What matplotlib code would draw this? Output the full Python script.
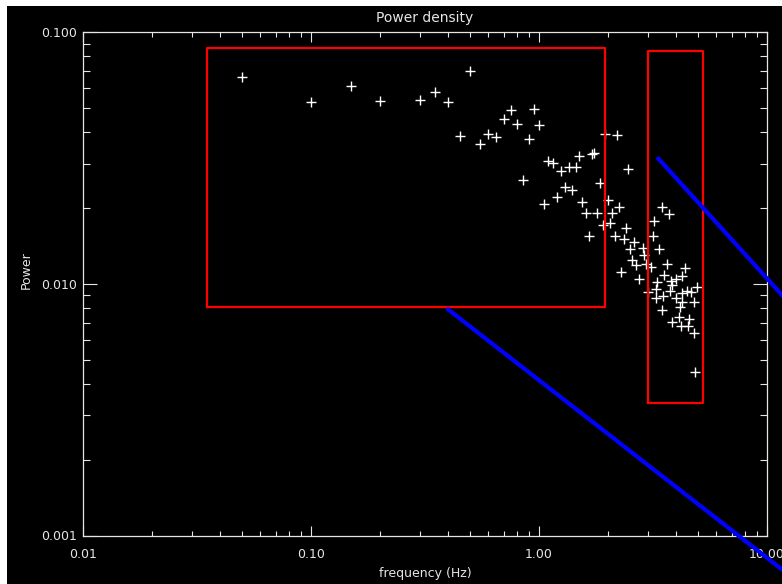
import matplotlib
matplotlib.use("Agg")
import matplotlib.pyplot as plt
from matplotlib.patches import Rectangle

# frequency / power pairs
freq = [0.05, 0.10, 0.15, 0.20, 0.30, 0.35, 0.40, 0.50, 0.45, 0.55,
        0.60, 0.65, 0.70, 0.75, 0.80, 0.95, 1.00, 0.90, 0.85, 1.05,
        1.20, 1.10, 1.15, 1.25, 1.35, 1.45, 1.50, 1.70, 1.75, 1.30,
        1.40, 1.55, 1.60, 1.80, 1.85, 1.95, 2.20, 2.45, 2.00, 2.25,
        2.10, 2.05, 1.90, 1.65, 2.15, 2.40, 2.35, 2.60, 2.50, 2.85,
        3.15, 3.20, 3.45, 3.70, 3.35, 2.55, 2.65, 2.90, 2.95, 3.10,
        2.30, 2.75, 3.65, 4.35, 3.30, 3.55, 3.80, 4.00, 4.25, 3.25,
        3.75, 4.45, 4.95, 4.65, 3.85, 3.25, 3.50, 4.00, 4.25, 4.80,
        3.45, 4.15, 4.10, 3.85, 4.55, 4.20, 4.50, 4.80, 4.85, 3.00,
        4.25]
power = [0.0664, 0.0528, 0.0608, 0.0531, 0.0536, 0.0580, 0.0525, 0.0702, 0.0385, 0.0359,
         0.0394, 0.0382, 0.0451, 0.0489, 0.0431, 0.0493, 0.0427, 0.0376, 0.0259, 0.0208,
         0.0222, 0.0308, 0.0301, 0.0280, 0.0292, 0.0291, 0.0323, 0.0327, 0.0332, 0.0243,
         0.0235, 0.0211, 0.0191, 0.0191, 0.0251, 0.0392, 0.0389, 0.0285, 0.0215, 0.0201,
         0.0191, 0.0175, 0.0171, 0.0155, 0.0155, 0.0166, 0.0150, 0.0146, 0.0138, 0.0139,
         0.0155, 0.0178, 0.0202, 0.0189, 0.0138, 0.0124, 0.0119, 0.0130, 0.0120, 0.0117,
         0.0111, 0.0104, 0.0120, 0.0116, 0.0102, 0.0108, 0.0103, 0.0104, 0.0107, 0.00955,
         0.00936, 0.00938, 0.00968, 0.00928, 0.00989, 0.00876, 0.00890, 0.00876, 0.00849, 0.00847,
         0.00787, 0.00812, 0.00740, 0.00707, 0.00723, 0.00680, 0.00677, 0.00636, 0.00447, 0.00930,
         0.00917]

# selection boxes (f0, f1, p0, p1)
box_low = [0.035, 1.95, 0.0081, 0.086]
box_high = [3.0, 5.23, 0.00337, 0.0842]

# power-law guide lines
fit_low_f = [0.4, 20.0]
fit_low_p = [0.0079, 0.0005]
fit_high_f = [3.34, 20.0]
fit_high_p = [0.0314, 0.00525]

xticks = [0.01, 0.1, 1.0, 10.0]
xticklabels = ["0.01", "0.10", "1.00", "10.00"]
yticks = [0.001, 0.01, 0.1]
yticklabels = ["0.001", "0.010", "0.100"]

fg = "#e6e6e6"
W, H = 782, 584

fig = plt.figure(figsize=(W / 100, H / 100), dpi=100)
fig.patch.set_facecolor("white")
# black canvas with a thin white strip on top and left
fig.patches.append(Rectangle((7 / W, 0), 1, 1 - 6 / H, transform=fig.transFigure,
                             facecolor="black", edgecolor="none", zorder=-10))

ax = fig.add_axes([83 / W, 1 - 535.5 / H, 684 / W, 503.5 / H])
ax.set_facecolor("black")
ax.set_xscale("log")
ax.set_yscale("log")
ax.set_xlim(0.01, 10)
ax.set_ylim(0.001, 0.1)

ax.plot(freq, power, "+", color="white", ms=7, mew=1.0, zorder=2)

for f0, f1, p0, p1 in (box_low, box_high):
    ax.plot([f0, f1, f1, f0, f0], [p0, p0, p1, p1, p0], color="#ff0000", lw=1.6, zorder=3)

ax.plot(fit_low_f, fit_low_p, color="#0000ff", lw=3, clip_on=False, zorder=4)
ax.plot(fit_high_f, fit_high_p, color="#0000ff", lw=3, clip_on=False, zorder=4)

for s in ax.spines.values():
    s.set_color(fg)
    s.set_linewidth(0.9)

ax.set_xticks(xticks)
ax.set_xticklabels(xticklabels)
ax.set_yticks(yticks)
ax.set_yticklabels(yticklabels)
ax.tick_params(axis="x", which="major", direction="in", length=7, width=0.8,
               top=True, bottom=True, color=fg, labelcolor=fg, labelsize=9, pad=9)
ax.tick_params(axis="x", which="minor", direction="in", length=3.6, width=0.8,
               top=True, bottom=True, color=fg)
ax.tick_params(axis="y", which="major", direction="in", length=10, width=0.8,
               left=True, right=True, color=fg, labelcolor=fg, labelsize=9, pad=4)
ax.tick_params(axis="y", which="minor", direction="in", length=5, width=0.8,
               left=True, right=True, color=fg)
ax.tick_params(which="minor", labelleft=False, labelbottom=False)

fig.text(425 / W, 1 - 18 / H, "Power density", color=fg, fontsize=10, ha="center", va="center")
fig.text(425 / W, 1 - 574 / H, "frequency (Hz)", color=fg, fontsize=9, ha="center", va="center")
fig.text(26 / W, 1 - 270 / H, "Power", color=fg, fontsize=9, ha="center", va="center",
         rotation=90)

fig.savefig("out.png", dpi=100, facecolor=fig.get_facecolor())
